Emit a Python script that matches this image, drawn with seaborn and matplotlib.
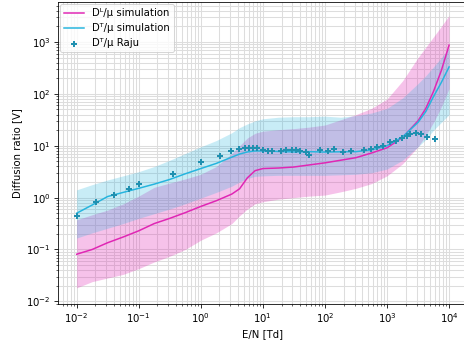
import numpy as np
import pandas as pd
import matplotlib
matplotlib.use("Agg")
import matplotlib.pyplot as plt
import seaborn as sns

# Reduced field grid [Td]
field = [0.01, 0.0178, 0.0316, 0.0562, 0.1, 0.178, 0.316, 0.562, 1.0, 1.78,
         3.16, 4.22, 5.62, 7.5, 10.0, 17.8, 31.6, 56.2, 100.0, 178.0,
         316.0, 562.0, 1000.0, 1780.0, 3160.0, 4220.0, 5620.0, 7500.0, 10000.0]

# Longitudinal diffusion / mobility (simulation) with spread band
dl_mean = [0.081, 0.100, 0.135, 0.174, 0.229, 0.316, 0.398, 0.513, 0.676, 0.871,
           1.17, 1.48, 2.40, 3.31, 3.63, 3.72, 3.89, 4.27, 4.68, 5.25,
           5.89, 7.24, 9.12, 14.5, 30.2, 52.5, 112.0, 282.0, 871.0]
dl_low = [0.0182, 0.0240, 0.0282, 0.0331, 0.0427, 0.0575, 0.0741, 0.100, 0.151, 0.209,
          0.316, 0.447, 0.603, 0.759, 0.832, 0.933, 1.00, 1.07, 1.12, 1.29,
          1.51, 1.86, 2.63, 4.47, 9.55, 15.8, 28.2, 56.2, 126.0]
dl_high = [0.372, 0.468, 0.575, 0.759, 1.07, 1.58, 1.91, 2.29, 2.82, 3.98,
           7.08, 10.0, 14.1, 17.4, 19.1, 20.4, 21.4, 22.9, 25.1, 31.6,
           39.8, 52.5, 79.4, 178.0, 501.0, 794.0, 1260.0, 2000.0, 3240.0]

# Transverse diffusion / mobility (simulation) with spread band
dt_mean = [0.50, 0.72, 1.05, 1.26, 1.51, 1.82, 2.24, 2.88, 3.63, 4.57,
           6.03, 6.92, 7.59, 7.94, 7.94, 7.76, 7.60, 7.70, 7.55, 7.65,
           7.70, 8.32, 10.0, 14.8, 28.2, 45.7, 89.1, 166.0, 331.0]
dt_low = [0.166, 0.209, 0.257, 0.316, 0.398, 0.490, 0.603, 0.759, 0.977, 1.26,
          1.66, 2.00, 2.34, 2.57, 2.63, 2.69, 2.69, 2.69, 2.69, 2.75,
          2.82, 3.02, 3.55, 5.25, 9.55, 13.2, 20.0, 28.2, 39.8]
dt_high = [1.41, 1.78, 2.19, 2.63, 3.16, 3.98, 5.25, 7.08, 9.55, 12.6,
           17.8, 22.4, 26.3, 30.2, 33.1, 35.5, 36.3, 36.3, 37.2, 35.5,
           38.0, 42.7, 52.5, 83.2, 158.0, 224.0, 331.0, 501.0, 759.0]

# Reference measurements (Raju)
raju_field = [0.0100, 0.0204, 0.0407, 0.0692, 0.100, 0.355, 1.00, 2.04, 3.02, 4.07,
              5.13, 6.03, 6.92, 8.13, 10.0, 12.0, 13.8, 19.5, 24.0, 29.5,
              34.7, 39.8, 50.1, 55.0, 83.2, 110.0, 138.0, 195.0, 263.0, 427.0,
              562.0, 692.0, 851.0, 1120.0, 1380.0, 1740.0, 2090.0, 2340.0, 2880.0, 3470.0,
              4370.0, 5890.0]
raju_dt = [0.447, 0.832, 1.12, 1.48, 1.86, 2.82, 4.79, 6.46, 7.94, 8.71,
           8.91, 8.91, 9.12, 8.91, 8.13, 7.76, 7.76, 7.76, 8.13, 8.32,
           8.32, 7.94, 7.41, 6.76, 8.32, 7.94, 8.51, 7.59, 7.94, 8.32,
           8.71, 9.33, 9.77, 12.0, 12.6, 14.1, 15.5, 16.6, 17.8, 16.6,
           14.8, 13.5]

x_ticks = [1e-2, 1e-1, 1e0, 1e1, 1e2, 1e3, 1e4]
y_ticks = [1e-2, 1e-1, 1e0, 1e1, 1e2, 1e3]

PINK = "#e026b4"
CYAN = "#26b5de"
TEAL = "#2090b0"

sim = pd.DataFrame({"field": field, "dl": dl_mean, "dt": dt_mean})
raju = pd.DataFrame({"field": raju_field, "dt": raju_dt})

fig = plt.figure(figsize=(6.4, 345 / 72.5), dpi=72.5)
ax = fig.add_axes([0.125, 0.119, 0.883, 0.875])
ax.set_xscale("log")
ax.set_yscale("log")

ax.fill_between(field, dl_low, dl_high, color=PINK, alpha=0.28, linewidth=0)
ax.fill_between(field, dt_low, dt_high, color=CYAN, alpha=0.25, linewidth=0)

sns.lineplot(data=sim, x="field", y="dl", ax=ax, color=PINK, linewidth=1.5,
             label="D\u1d38/\u03bc simulation")
sns.lineplot(data=sim, x="field", y="dt", ax=ax, color=CYAN, linewidth=1.5,
             label="D\u1d40/\u03bc simulation")
sns.scatterplot(data=raju, x="field", y="dt", ax=ax, color=TEAL, marker="P",
                s=38, linewidth=0, label="D\u1d40/\u03bc Raju", zorder=3)

ax.set_xticks(x_ticks)
ax.set_yticks(y_ticks)
ax.set_xlim(10 ** -2.3, 10 ** 4.3)
ax.set_ylim(10 ** -2.05, 10 ** 3.77)
ax.grid(True, which="both", color="#dddddd", linewidth=1.0)
ax.set_axisbelow(True)
ax.set_xlabel("E/N [Td]")
ax.set_ylabel("Diffusion ratio [V]")
ax.legend(loc="upper left", borderaxespad=0.2, fontsize=10)

fig.savefig("out.png", dpi=72.5)
